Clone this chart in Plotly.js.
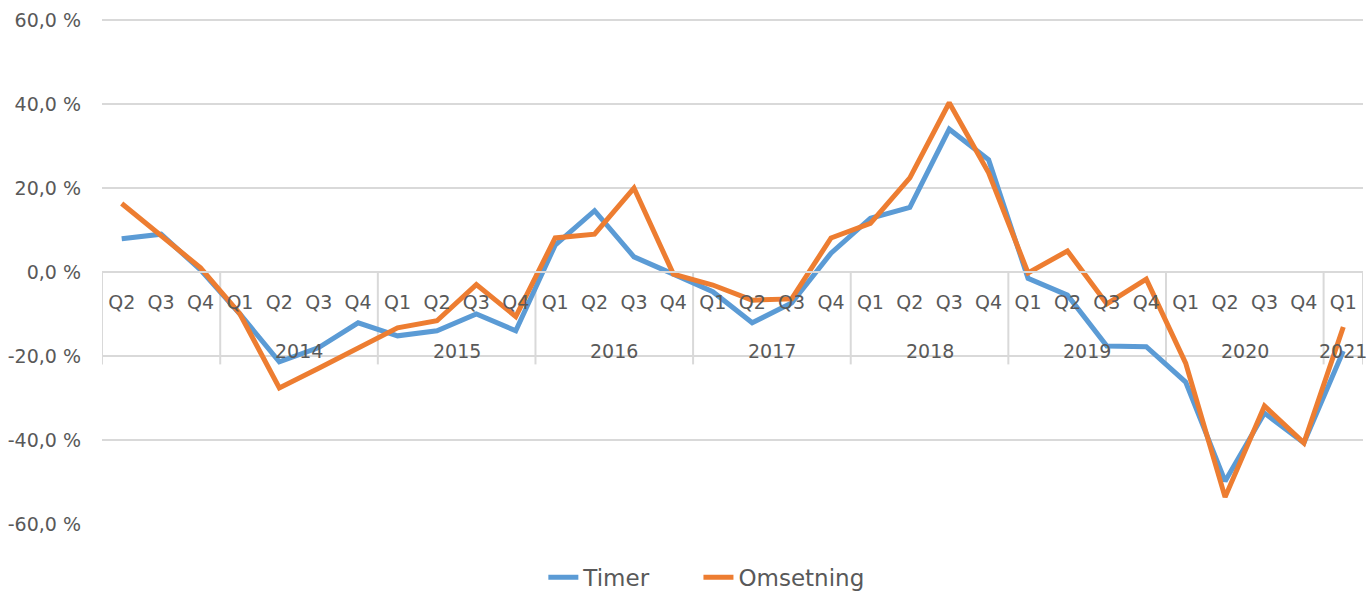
<!DOCTYPE html>
<html>
<head>
<meta charset="utf-8">
<script src="https://cdn.plot.ly/plotly-3.0.1.min.js"></script>
<style>html,body{margin:0;padding:0;background:#fff;}#chart{width:1366px;height:592px;}</style>
</head>
<body>
<div id="chart"></div>
<script>
const years = ["2013","2013","2013","2014","2014","2014","2014","2015","2015","2015","2015","2016","2016","2016","2016","2017","2017","2017","2017","2018","2018","2018","2018","2019","2019","2019","2019","2020","2020","2020","2020","2021"];
const quarters = ["Q2","Q3","Q4","Q1","Q2","Q3","Q4","Q1","Q2","Q3","Q4","Q1","Q2","Q3","Q4","Q1","Q2","Q3","Q4","Q1","Q2","Q3","Q4","Q1","Q2","Q3","Q4","Q1","Q2","Q3","Q4","Q1"];
const yearLabels = ["", "2014", "2015", "2016", "2017", "2018", "2019", "2020", "2021"];
const timer = [7.9, 9.0, 0.5, -10, -21.4, -18, -12.1, -15.2, -14, -10, -14, 6.4, 14.6, 3.6, -0.5, -4.7, -12.1, -7.4, 4.5, 12.8, 15.4, 34, 26.7, -1.5, -5.5, -17.6, -17.8, -26.2, -49.8, -33.6, -40.7, -18.8];
const omsetning = [16.3, 8.5, 1.0, -10, -27.6, -22.9, -18, -13.3, -11.6, -3, -10.6, 8.1, 9.0, 20, -0.5, -3.1, -6.7, -6.4, 8.1, 11.6, 22.4, 40.3, 23.6, -0.2, 5.0, -7.6, -1.7, -21.7, -53.6, -31.9, -40.7, -13.1];
const yTickVals = [-60, -40, -20, 0, 20, 40, 60];
const yTickText = ["-60,0 %", "-40,0 %", "-20,0 %", "0,0 %", "20,0 %", "40,0 %", "60,0 %"];

const font = "DejaVu Sans, sans-serif";
const textColor = "#595959";
const lineGray = "#d9d9d9";
const keys = years.map((y, i) => y + " " + quarters[i]);

// year groups
const groups = [];
years.forEach((y, i) => {
  if (!groups.length || groups[groups.length - 1].year !== y) groups.push({year: y, start: i, end: i});
  else groups[groups.length - 1].end = i;
});
const annotations = groups.map((g, gi) => ({
  xref: "x", yref: "y", x: (g.start + g.end) / 2, y: -18.8,
  text: yearLabels[gi], showarrow: false,
  font: {family: font, size: 19, color: textColor}
}));
const shapes = [];
groups.forEach(g => {
  shapes.push({type: "line", xref: "x", yref: "y", x0: g.start - 0.5, x1: g.start - 0.5, y0: 0, y1: -22,
               line: {color: lineGray, width: 2}, layer: "below"});
});
shapes.push({type: "line", xref: "x", yref: "y", x0: years.length - 0.5, x1: years.length - 0.5, y0: 0, y1: -22,
             line: {color: lineGray, width: 2}, layer: "below"});

const traces = [
  {type: "scatter", mode: "lines", name: "Timer", x: keys, y: timer, legend: "legend",
   line: {color: "#5B9BD5", width: 5}},
  {type: "scatter", mode: "lines", name: "Omsetning", x: keys, y: omsetning, legend: "legend2",
   line: {color: "#ED7D31", width: 5}}
];
const legendFont = {family: font, size: 23, color: textColor};
const layout = {
  width: 1366, height: 592,
  margin: {l: 102, r: 3, t: 19, b: 68, autoexpand: false},
  paper_bgcolor: "#ffffff", plot_bgcolor: "#ffffff",
  font: {family: font, color: textColor, size: 19},
  showlegend: true,
  legend: {orientation: "h", x: 0.35, xanchor: "left", y: -0.063, yanchor: "top", font: legendFont},
  legend2: {orientation: "h", x: 0.473, xanchor: "left", y: -0.063, yanchor: "top", font: legendFont},
  annotations: annotations,
  shapes: shapes,
  xaxis: {type: "category", anchor: "free", position: 0.5, range: [-0.5, keys.length - 0.5],
          tickvals: keys, ticktext: quarters,
          showline: true, linecolor: lineGray, linewidth: 2,
          showgrid: false, ticks: "", zeroline: false, ticklabelstandoff: 14,
          tickfont: {family: font, size: 19, color: textColor}},
  yaxis: {range: [-60, 60.24], tickvals: yTickVals, ticktext: yTickText,
          showgrid: true, gridcolor: lineGray, gridwidth: 2, zeroline: false,
          showline: false, ticks: "", ticklabelstandoff: 20,
          tickfont: {family: font, size: 19, color: textColor}}
};
Plotly.newPlot("chart", traces, layout, {displayModeBar: false, staticPlot: true});
</script>
</body>
</html>
